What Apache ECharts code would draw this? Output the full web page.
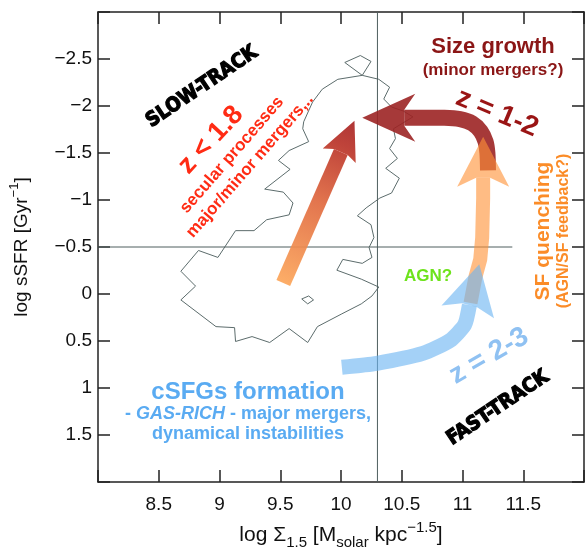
<!DOCTYPE html>
<html><head><meta charset="utf-8">
<script src="https://cdn.jsdelivr.net/npm/echarts@6/dist/echarts.min.js"></script>
<style>html,body{margin:0;padding:0;background:#fff}#c{width:587px;height:555px}</style>
</head><body><div id="c"></div>
<script>
// ---- data (axis units: x = log Sigma_1.5, y = log sSFR) ----
const xRange = [8, 12];
const yRange = [-3, 2];
const tickStep = 0.5;

const contour = [
  [10.175,-2.326],[10.031,-2.463],[10.159,-2.537],[10.247,-2.474],[10.175,-2.326],
  [10.311,-2.284],[10.400,-2.200],[10.352,-2.074],[10.416,-1.989],[10.512,-1.947],
  [10.592,-1.884],[10.432,-1.758],[10.448,-1.653],[10.400,-1.547],[10.464,-1.442],
  [10.368,-1.337],[10.480,-1.232],[10.416,-1.074],[10.320,-1.021],[10.207,-0.916],
  [10.135,-0.832],[10.247,-0.737],[10.271,-0.600],[10.231,-0.495],[10.255,-0.389],
  [10.175,-0.326],[10.015,-0.368],[9.966,-0.253],[10.167,-0.158],[10.311,-0.074],
  [10.255,0.021],[10.167,0.105],[10.007,0.211],[9.806,0.347],[9.726,0.516],
  [9.573,0.368],[9.413,0.516],[9.268,0.453],[9.132,0.505],[9.124,0.358],
  [8.971,0.347],[8.682,0.063],[8.803,-0.084],[8.682,-0.242],[8.827,-0.463],
  [8.987,-0.389],[9.132,-0.674],[9.284,-0.674],[9.388,-0.790],[9.573,-0.842],
  [9.605,-0.968],[9.525,-1.084],[9.372,-1.116],[9.581,-1.326],[9.485,-1.421],
  [9.573,-1.526],[9.734,-1.621],[9.685,-1.758],[9.693,-1.832],[9.766,-2.042],
  [9.846,-2.179],[9.974,-2.284],[10.175,-2.326]
];
const contourIsland = [[9.677,0.053],[9.734,0.021],[9.774,0.063],[9.726,0.105],[9.677,0.053]];

const refLineH = [[8.0,-0.5],[11.41,-0.5]];
const refLineV = [[10.3,-3],[10.3,2]];

// arrows: path points, last point is the tip
const arrowSlow = [[9.525,-0.116],[10.111,-1.842]];
const arrowGrowth = [[11.210,-1.316],[11.205,-1.500],[11.190,-1.620],[11.150,-1.730],[11.080,-1.815],[10.980,-1.860],[10.850,-1.874],[10.175,-1.874]];
const arrowQuench = [[11.066,0.095],[11.106,-0.179],[11.146,-0.368],[11.162,-0.600],[11.170,-1.021],[11.170,-1.674]];
const arrowForm = [[10.007,0.779],[10.295,0.737],[10.673,0.632],[10.897,0.495],[11.018,0.326],[11.082,0.011],[11.138,-0.316]];

const FONT = 'Liberation Sans, Arial, Helvetica, sans-serif';

function arrowSeries(name, pts, o) {
  return {
    type: 'custom', name: name, coordinateSystem: 'cartesian2d',
    xAxisIndex: 0, yAxisIndex: 0, data: pts, encode: {x: 0, y: 1},
    silent: true, z: o.z, animation: false,
    renderItem: function (params, api) {
      if (params.dataIndex !== 0) return null;
      const P = pts.map(function (p) { return api.coord(p); });
      const tip = P[P.length - 1];
      let k = P.length - 2;
      while (k > 0 && Math.hypot(P[k][0] - tip[0], P[k][1] - tip[1]) < o.notch + 1) k--;
      const p = P[k];
      const dx = tip[0] - p[0], dy = tip[1] - p[1];
      const L = Math.hypot(dx, dy);
      const ux = dx / L, uy = dy / L, nx = -uy, ny = ux;
      const base = [tip[0] - ux * o.notch, tip[1] - uy * o.notch];
      const shaft = P.slice(0, k + 1).concat([base]);
      const bb = [tip[0] - ux * o.len, tip[1] - uy * o.len];
      const hw = o.w / 2;
      const head = [
        tip,
        [bb[0] + nx * o.half, bb[1] + ny * o.half],
        [base[0] + nx * hw, base[1] + ny * hw],
        [base[0] - nx * hw, base[1] - ny * hw],
        [bb[0] - nx * o.half, bb[1] - ny * o.half]
      ];
      let paint = o.color;
      if (o.stops) {
        paint = {type: 'linear', x: P[0][0], y: P[0][1], x2: tip[0], y2: tip[1], global: true,
                 colorStops: o.stops};
      }
      return {type: 'group', children: [
        {type: 'polyline', shape: {points: shaft, smooth: o.smooth || 0},
         style: {stroke: paint, fill: 'none', lineWidth: o.w, opacity: o.op, lineJoin: 'round', lineCap: 'butt'}},
        {type: 'polygon', shape: {points: head},
         style: {fill: paint, stroke: 'none', opacity: o.op}}
      ]};
    }
  };
}

function lineSeries(data, color, z) {
  return {type: 'line', data: data, symbol: 'none', silent: true, z: z, animation: false,
          lineStyle: {color: color, width: 1}, xAxisIndex: 0, yAxisIndex: 0};
}

function txt(text, x, y, rotDeg, size, color, extra) {
  const st = Object.assign({
    text: text, fill: color, fontSize: size, fontWeight: 'bold', fontFamily: FONT,
    textAlign: 'center', textVerticalAlign: 'middle', align: 'center', verticalAlign: 'middle'
  }, extra || {});
  return {type: 'text', x: x, y: y, rotation: rotDeg * Math.PI / 180, z: 100, style: st, silent: true};
}

const chart = echarts.init(document.getElementById('c'), null, {renderer: 'canvas'});
const minus = function (v) { return String(v).replace('-', '\u2212'); };

const axisCommon = {
  type: 'value', interval: tickStep, splitLine: {show: false},
  axisLine: {show: true, onZero: false, lineStyle: {color: '#222', width: 1.5}},
  axisTick: {show: true, inside: true, length: 12, lineStyle: {color: '#222', width: 1.5}}
};

const option = {
  animation: false,
  backgroundColor: '#fff',
  grid: {left: 97, top: 12, right: -8, bottom: 68, containLabel: false},
  xAxis: [
    Object.assign({}, axisCommon, {
      min: xRange[0], max: xRange[1], position: 'bottom',
      axisLabel: {show: true, margin: 13, fontSize: 19, color: '#111', fontFamily: FONT,
        formatter: function (v) { return (v === xRange[0] || v === xRange[1]) ? '' : minus(v); }},
      name: 'log \u03A3{sub|1.5} [M{sub|solar} kpc{sup|\u22121.5}]',
      nameLocation: 'middle', nameGap: 38,
      nameTextStyle: {fontSize: 21, color: '#111', fontFamily: FONT, lineHeight: 30,
        rich: {sub: {fontSize: 15, fontFamily: FONT, color: '#111', verticalAlign: 'bottom', lineHeight: 13},
               sup: {fontSize: 15, fontFamily: FONT, color: '#111', verticalAlign: 'top', lineHeight: 13}}}
    }),
    Object.assign({}, axisCommon, {
      min: xRange[0], max: xRange[1], position: 'top', axisLabel: {show: false}
    })
  ],
  yAxis: [
    Object.assign({}, axisCommon, {
      min: yRange[0], max: yRange[1], inverse: true, position: 'left',
      axisLabel: {show: true, margin: 6, fontSize: 19, color: '#111', fontFamily: FONT,
        formatter: function (v) { return (v === yRange[0] || v === yRange[1]) ? '' : minus(v); }},
      name: 'log sSFR [Gyr{sup|\u22121}]', nameLocation: 'middle', nameRotate: 90, nameGap: 62,
      nameTextStyle: {fontSize: 19, color: '#111', fontFamily: FONT, lineHeight: 28,
        rich: {sup: {fontSize: 13, fontFamily: FONT, color: '#111', verticalAlign: 'top', lineHeight: 12}}}
    }),
    Object.assign({}, axisCommon, {
      min: yRange[0], max: yRange[1], inverse: true, position: 'right', axisLabel: {show: false}
    })
  ],
  series: [
    lineSeries(contour, '#5c6c6c', 2),
    lineSeries(contourIsland, '#5c6c6c', 2),
    lineSeries(refLineH, '#4e5e5e', 3),
    lineSeries(refLineV, '#4e5e5e', 3),
    arrowSeries('growth', arrowGrowth, {z: 5, w: 16, len: 53, half: 24, notch: 42, color: '#9c2424', op: 0.9, smooth: 0.25}),
    arrowSeries('slow', arrowSlow, {z: 6, w: 15, len: 38, half: 18, notch: 34, op: 0.92,
      stops: [{offset: 0, color: '#fca65a'}, {offset: 0.5, color: '#e0693f'}, {offset: 0.85, color: '#b93329'}, {offset: 1, color: '#a82424'}]}),
    arrowSeries('quench', arrowQuench, {z: 7, w: 14, len: 50, half: 26, notch: 41, color: '#ff9338', op: 0.62}),
    arrowSeries('form', arrowForm, {z: 8, w: 15, len: 49, half: 27, notch: 42, color: '#6cb4f2', op: 0.62, smooth: 0.2})
  ],
  graphic: [
    txt('SLOW-TRACK', 202, 87, 34, 20, '#000', {fontFamily: 'Liberation Sans Narrow, DejaVu Sans Condensed, sans-serif', stroke: '#000', lineWidth: 1.2}),
    txt('FAST-TRACK', 498, 408, 34, 20, '#000', {fontFamily: 'Liberation Sans Narrow, DejaVu Sans Condensed, sans-serif', stroke: '#000', lineWidth: 1.2}),
    txt('z < 1.8', 211, 140, 47, 27, '#ff2b14'),
    txt('secular processes', 232, 155, 49, 17, '#ff2b14'),
    txt('major/minor mergers,..', 250, 166, 49, 17, '#ff2b14'),
    txt('Size growth', 493, 47, 0, 22, '#8b1616'),
    txt('(minor mergers?)', 493, 70, 0, 17, '#8b1616'),
    txt('z = 1-2', 497, 113, -22.6, 28, '#9a1414'),
    txt('SF quenching', 543, 231, 90, 21, '#fb8c28'),
    txt('(AGN/SF feedback?)', 564, 231, 90, 16, '#fb8c28'),
    txt('AGN?', 428, 276, 0, 17, '#6de31b'),
    txt('z = 2-3', 489, 356, 30, 28, '#8fc1f2'),
    txt('cSFGs formation', 248, 392, 0, 24, '#5aabf2'),
    txt('- {i|GAS-RICH} - major mergers,', 248, 414, 0, 18, '#5aabf2',
        {rich: {i: {fontStyle: 'italic', fontWeight: 'bold', fontSize: 18, fontFamily: FONT, fill: '#5aabf2', color: '#5aabf2'}}}),
    txt('dynamical instabilities', 248, 434, 0, 18, '#5aabf2')
  ]
};
chart.setOption(option);
</script>
</body></html>
